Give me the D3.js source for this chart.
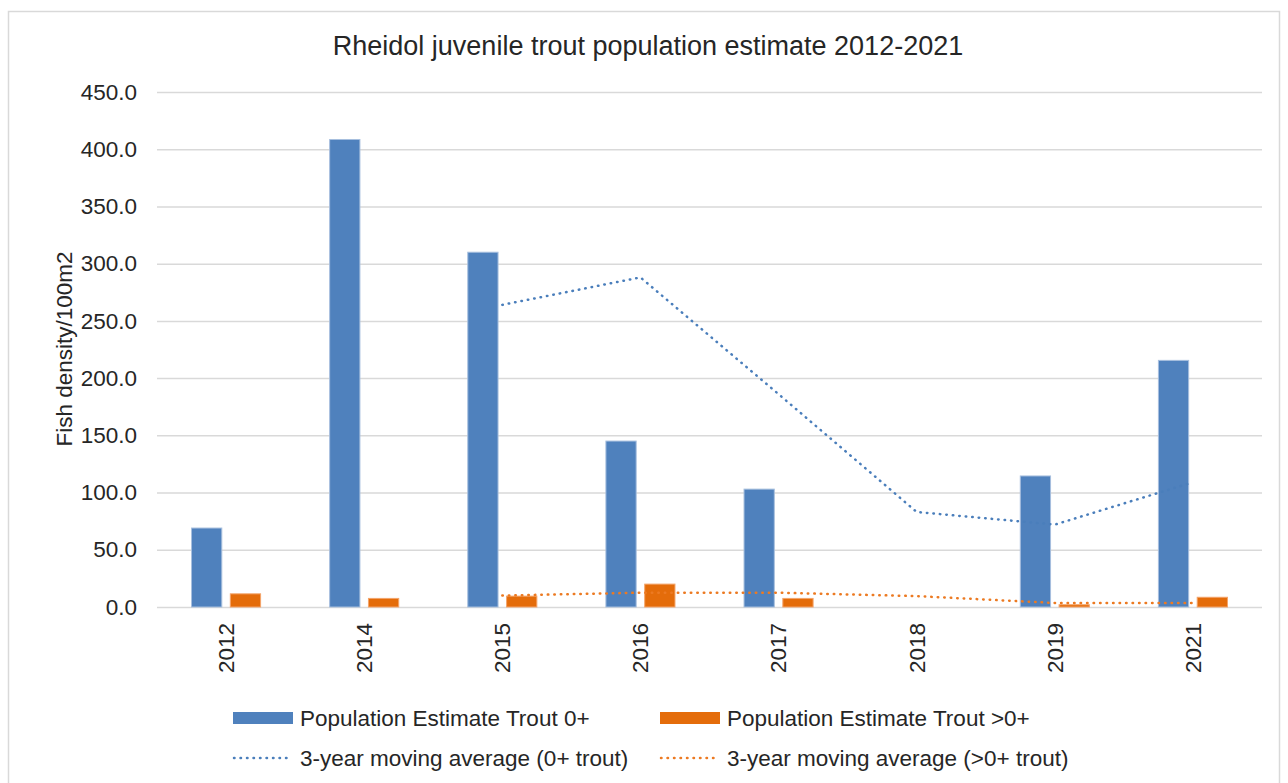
<!DOCTYPE html>
<html>
<head>
<meta charset="utf-8">
<script src="https://cdn.jsdelivr.net/npm/d3@7"></script>
<style>
  body { margin: 0; background: #fff; }
  text { font-family: "Liberation Sans", Arial, sans-serif; fill: #262626; }
</style>
</head>
<body>
<svg id="chart"></svg>
<script>
const years = ['2012', '2014', '2015', '2016', '2017', '2018', '2019', '2021'];
const trout0 = [69, 408.5, 310, 145, 103, null, 114.5, 215.5];
const troutOlder = [11.5, 7.5, 9.5, 20, 7.5, null, 2, 8.5];
// 3-year moving averages (start at 2015)
const avgYears = ['2015', '2016', '2017', '2018', '2019', '2021'];
const avg0 = [264, 288, 186, 83, 72, 109];
const avgOlder = [10, 12.5, 12.5, 9.5, 3.5, 3.5];
const yTicks = [0, 50, 100, 150, 200, 250, 300, 350, 400, 450];

const w = 1288;
const h = 783;
const plotLeft = 157, plotRight = 1262, plotTop = 92, plotBottom = 607;
const blue = '#4F81BD';
const orange = '#E46C0A';
const axisFont = 22.5;

const svg = d3.select('#chart')
  .attr('width', w)
  .attr('height', h);

// chart area border
svg.append('rect')
  .attr('x', 8.5).attr('y', 11.5)
  .attr('width', 1271).attr('height', 800)
  .attr('fill', '#fff')
  .attr('stroke', '#D9D9D9')
  .attr('stroke-width', 1.5);

const x0 = d3.scaleBand()
  .domain(years)
  .range([plotLeft, plotRight])
  .paddingInner(0.5)
  .paddingOuter(0.25);

const x1 = d3.scaleBand()
  .domain(['a', 'b'])
  .range([0, x0.bandwidth()])
  .paddingInner(0.22);

const yScale = d3.scaleLinear()
  .domain([0, 450])
  .range([plotBottom, plotTop]);

const cx = d => x0(d) + x0.bandwidth() / 2;

// gridlines + y labels
const yAxis = d3.axisLeft(yScale)
  .tickValues(yTicks)
  .tickFormat(d3.format('.1f'))
  .tickSize(-(plotRight - plotLeft))
  .tickPadding(20);

svg.append('g')
  .attr('transform', `translate(${plotLeft}, 0)`)
  .call(yAxis)
  .call(g => g.select('.domain').remove())
  .call(g => g.selectAll('line').attr('stroke', '#D9D9D9').attr('stroke-width', 1.5))
  .call(g => g.selectAll('text')
    .attr('font-size', axisFont)
    .attr('font-family', '"Liberation Sans", Arial, sans-serif')
    .attr('fill', '#262626'));

// x axis labels (rotated)
const xAxis = d3.axisBottom(x0).tickSize(0).tickPadding(0);
svg.append('g')
  .attr('transform', `translate(0, ${plotBottom})`)
  .call(xAxis)
  .call(g => g.select('.domain').remove())
  .call(g => g.selectAll('text')
    .attr('font-size', axisFont)
    .attr('font-family', '"Liberation Sans", Arial, sans-serif')
    .attr('fill', '#262626')
    .attr('text-anchor', 'end')
    .attr('y', 0)
    .attr('dy', '0.35em')
    .attr('transform', 'translate(0, 16) rotate(-90)'));

// bars
const groups = svg.append('g')
  .selectAll('g')
  .data(years.map((yr, i) => ({ yr, a: trout0[i], b: troutOlder[i] })))
  .enter()
  .append('g')
  .attr('transform', d => `translate(${x0(d.yr)}, 0)`);

groups.filter(d => d.a !== null)
  .append('rect')
  .attr('x', x1('a'))
  .attr('width', x1.bandwidth())
  .attr('y', d => yScale(d.a))
  .attr('height', d => plotBottom - yScale(d.a))
  .attr('fill', blue)
  .attr('stroke', '#A7BFDE')
  .attr('stroke-width', 1);

groups.filter(d => d.b !== null)
  .append('rect')
  .attr('x', x1('b'))
  .attr('width', x1.bandwidth())
  .attr('y', d => yScale(d.b))
  .attr('height', d => plotBottom - yScale(d.b))
  .attr('fill', orange)
  .attr('stroke', '#F4A46A')
  .attr('stroke-width', 1);

// moving average lines
const line = d3.line()
  .x(d => cx(d[0]))
  .y(d => yScale(d[1]));

svg.append('path')
  .datum(avgYears.map((yr, i) => [yr, avg0[i]]))
  .attr('d', line)
  .attr('fill', 'none')
  .attr('stroke', '#4A7EBB')
  .attr('stroke-width', 2.5)
  .attr('stroke-linecap', 'round')
  .attr('stroke-dasharray', '0.5,6');

svg.append('path')
  .datum(avgYears.map((yr, i) => [yr, avgOlder[i]]))
  .attr('d', line)
  .attr('fill', 'none')
  .attr('stroke', '#EC7A22')
  .attr('stroke-width', 2.5)
  .attr('stroke-linecap', 'round')
  .attr('stroke-dasharray', '0.5,6');

// title
svg.append('text')
  .attr('x', 648)
  .attr('y', 55)
  .attr('text-anchor', 'middle')
  .attr('font-size', 27)
  .text('Rheidol juvenile trout population estimate 2012-2021');

// y axis title
svg.append('text')
  .attr('transform', 'translate(72, 349) rotate(-90)')
  .attr('text-anchor', 'middle')
  .attr('font-size', 22.5)
  .text('Fish density/100m2');

// legend
const legendItems = [
  { label: 'Population Estimate Trout 0+', color: blue, type: 'bar', x: 233, y: 718 },
  { label: 'Population Estimate Trout >0+', color: orange, type: 'bar', x: 660, y: 718 },
  { label: '3-year moving average (0+ trout)', color: '#4A7EBB', type: 'line', x: 233, y: 758 },
  { label: '3-year moving average (>0+ trout)', color: '#EC7A22', type: 'line', x: 660, y: 758 }
];

const legend = svg.append('g')
  .selectAll('g')
  .data(legendItems)
  .enter()
  .append('g')
  .attr('transform', d => `translate(${d.x}, ${d.y})`);

legend.filter(d => d.type === 'bar')
  .append('rect')
  .attr('x', 0).attr('y', -6)
  .attr('width', 60).attr('height', 12)
  .attr('fill', d => d.color);

legend.filter(d => d.type === 'line')
  .append('line')
  .attr('x1', 1).attr('x2', 59)
  .attr('y1', 0).attr('y2', 0)
  .attr('stroke', d => d.color)
  .attr('stroke-width', 2.5)
  .attr('stroke-linecap', 'round')
  .attr('stroke-dasharray', '0.5,6');

legend.append('text')
  .attr('x', 67)
  .attr('dy', '0.35em')
  .attr('font-size', 22.5)
  .text(d => d.label);
</script>
</body>
</html>
